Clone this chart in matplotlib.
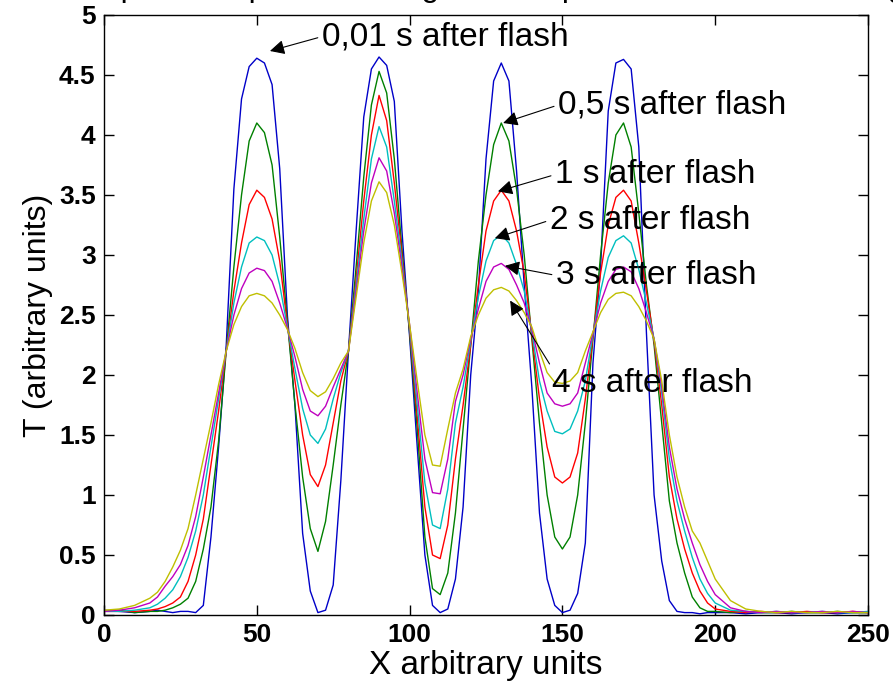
import matplotlib
matplotlib.use("Agg")
import matplotlib.pyplot as plt

plt.rcParams["font.family"] = ["Liberation Sans", "DejaVu Sans"]

# x positions (arbitrary units)
x_pos = [0, 5, 10, 15, 17.5, 20, 22.5, 25, 27.5, 30, 32.5, 35, 37.5, 40,
         42.5, 45, 47.5, 50, 52.5, 55, 57.5, 60,
         62.5, 65, 67.5, 70, 72.5, 75, 77.5, 80,
         82.5, 85, 87.5, 90, 92.5, 95, 97.5, 100,
         102.5, 105, 107.5, 110, 112.5, 115, 117.5, 120,
         122.5, 125, 127.5, 130, 132.5, 135, 137.5, 140,
         142.5, 145, 147.5, 150, 152.5, 155, 157.5, 160,
         162.5, 165, 167.5, 170, 172.5, 175, 177.5, 180,
         182.5, 185, 187.5, 190, 192.5, 195, 197.5, 200,
         205, 210, 215, 220, 225, 230, 235, 240, 245, 250]

t_001s = [0.04, 0.03, 0.02, 0.03, 0.04, 0.03, 0.02, 0.03, 0.03, 0.02, 0.08, 0.65, 1.4, 2.25,
          3.55, 4.3, 4.57, 4.64, 4.6, 4.42, 3.72, 2.5,
          1.74, 0.68, 0.2, 0.02, 0.04, 0.25, 1.12, 2.2,
          3.2, 4.15, 4.55, 4.65, 4.58, 4.28, 3.2, 2.32,
          1.4, 0.5, 0.08, 0.02, 0.05, 0.3, 0.9, 2.0,
          2.7, 3.8, 4.45, 4.6, 4.45, 3.7, 2.75, 1.9,
          0.85, 0.3, 0.08, 0.02, 0.04, 0.18, 0.6, 2.1,
          2.9, 4.2, 4.6, 4.63, 4.55, 3.9, 2.35, 1.0,
          0.45, 0.12, 0.03, 0.02, 0.02, 0.01, 0.02, 0.02,
          0.02, 0.01, 0.02, 0.02, 0.01, 0.02, 0.02, 0.01, 0.02, 0.02]

t_05s = [0.03, 0.04, 0.02, 0.03, 0.03, 0.04, 0.06, 0.09, 0.14, 0.28, 0.55, 0.9, 1.45, 2.2,
         2.9, 3.5, 3.95, 4.1, 4.02, 3.75, 3.15, 2.45,
         1.75, 1.15, 0.72, 0.53, 0.78, 1.25, 1.75, 2.2,
         2.9, 3.65, 4.25, 4.53, 4.35, 3.8, 3.05, 2.35,
         1.55, 0.65, 0.22, 0.17, 0.35, 0.85, 1.55, 2.25,
         2.95, 3.5, 3.92, 4.1, 3.95, 3.55, 3.0, 2.3,
         1.6, 1.0, 0.65, 0.55, 0.65, 1.0, 1.6, 2.3,
         3.0, 3.6, 4.0, 4.1, 3.9, 3.35, 2.75, 2.25,
         1.6, 0.95, 0.6, 0.35, 0.15, 0.06, 0.03, 0.03,
         0.02, 0.03, 0.02, 0.02, 0.03, 0.02, 0.02, 0.03, 0.02, 0.02]

t_1s = [0.03, 0.03, 0.03, 0.04, 0.05, 0.07, 0.1, 0.15, 0.28, 0.5, 0.8, 1.25, 1.7, 2.2,
        2.7, 3.1, 3.42, 3.54, 3.48, 3.3, 2.95, 2.42,
        1.95, 1.5, 1.17, 1.07, 1.25, 1.6, 1.95, 2.2,
        2.8, 3.45, 4.0, 4.33, 4.12, 3.6, 3.0, 2.38,
        1.65, 0.9, 0.5, 0.47, 0.75, 1.3, 1.75, 2.25,
        2.75, 3.2, 3.45, 3.54, 3.45, 3.2, 2.85, 2.33,
        1.8, 1.4, 1.15, 1.1, 1.15, 1.35, 1.8, 2.32,
        2.85, 3.25, 3.48, 3.54, 3.45, 3.1, 2.7, 2.28,
        1.75, 1.15, 0.8, 0.55, 0.35, 0.2, 0.1, 0.05,
        0.03, 0.02, 0.03, 0.02, 0.02, 0.03, 0.02, 0.02, 0.03, 0.02]

t_2s = [0.03, 0.03, 0.04, 0.06, 0.09, 0.14, 0.21, 0.32, 0.48, 0.7, 1.0, 1.4, 1.8, 2.2,
        2.6, 2.9, 3.1, 3.15, 3.12, 3.0, 2.75, 2.4,
        2.05, 1.72, 1.5, 1.43, 1.55, 1.8, 2.02, 2.2,
        2.75, 3.3, 3.8, 4.07, 3.9, 3.45, 2.95, 2.4,
        1.75, 1.1, 0.75, 0.72, 1.05, 1.6, 1.9, 2.28,
        2.65, 2.95, 3.12, 3.17, 3.1, 2.92, 2.7, 2.36,
        1.95, 1.7, 1.53, 1.51, 1.55, 1.7, 1.95, 2.34,
        2.7, 2.98, 3.12, 3.16, 3.1, 2.88, 2.6, 2.3,
        1.85, 1.3, 0.95, 0.7, 0.48, 0.3, 0.18, 0.1,
        0.04, 0.03, 0.02, 0.03, 0.02, 0.02, 0.03, 0.02, 0.02, 0.03]

t_3s = [0.03, 0.04, 0.06, 0.1, 0.15, 0.24, 0.32, 0.42, 0.58, 0.82, 1.15, 1.5, 1.85, 2.2,
        2.5, 2.72, 2.85, 2.89, 2.87, 2.78, 2.6, 2.39,
        2.15, 1.88, 1.7, 1.66, 1.74, 1.9, 2.05, 2.2,
        2.7, 3.2, 3.6, 3.81, 3.7, 3.35, 2.9, 2.42,
        1.85, 1.3, 1.02, 1.01, 1.3, 1.78, 2.0, 2.3,
        2.55, 2.78, 2.9, 2.93, 2.88, 2.75, 2.6, 2.38,
        2.1, 1.85, 1.76, 1.74, 1.76, 1.85, 2.1, 2.35,
        2.6, 2.78, 2.88, 2.9, 2.86, 2.72, 2.52, 2.3,
        1.9, 1.4, 1.05, 0.8, 0.6, 0.42, 0.28, 0.17,
        0.06, 0.03, 0.02, 0.03, 0.02, 0.02, 0.03, 0.02, 0.03, 0.02]

t_4s = [0.04, 0.05, 0.08, 0.14, 0.19, 0.28, 0.4, 0.54, 0.72, 1.0, 1.3, 1.6, 1.92, 2.2,
        2.42, 2.57, 2.66, 2.68, 2.66, 2.6, 2.5, 2.38,
        2.22, 2.02, 1.87, 1.82, 1.86, 1.97, 2.1, 2.2,
        2.65, 3.1, 3.45, 3.61, 3.52, 3.25, 2.85, 2.42,
        1.95, 1.5, 1.25, 1.24, 1.55, 1.85, 2.05, 2.32,
        2.5, 2.64, 2.71, 2.73, 2.7, 2.62, 2.52, 2.4,
        2.2, 2.02, 1.94, 1.93, 1.95, 2.02, 2.2, 2.36,
        2.52, 2.63, 2.68, 2.69, 2.66, 2.57, 2.45, 2.3,
        1.95, 1.5, 1.15, 0.9, 0.7, 0.6, 0.45, 0.3,
        0.12, 0.05, 0.03, 0.02, 0.03, 0.02, 0.02, 0.03, 0.02, 0.02]

series = [t_001s, t_05s, t_1s, t_2s, t_3s, t_4s]
colors = ["#0000c8", "#008000", "#ff0000", "#00bfbf", "#bf00bf", "#bfbf00"]

labels = ["0,01 s after flash", "0,5 s after flash", "1 s after flash",
          "2 s after flash", "3 s after flash", "4 s after flash"]
# arrow tip (x, T) and text anchor (x, T) for each label
tips = [(54.3, 4.70), (130.6, 4.10), (128.9, 3.53), (127.9, 3.14), (131.2, 2.91), (132.9, 2.62)]
text_at = [(71.3, 4.82), (148.6, 4.25), (147.6, 3.67), (145.9, 3.29), (147.9, 2.83), (146.6, 1.93)]
rel = [(0, 0.5), (0, 0.5), (0, 0.5), (0, 0.5), (0, 0.5), (0, 1.0)]

fig = plt.figure(figsize=(8.93, 6.90), dpi=100)
ax = fig.add_axes([104 / 893, 75 / 690, 764 / 893, 600 / 690])

for y, c in zip(series, colors):
    ax.plot(x_pos, y, color=c, lw=1.0)

for lab, tip, tx, rp in zip(labels, tips, text_at, rel):
    ax.annotate(lab, xy=tip, xytext=tx, fontsize=24, ha="left", va="center",
                arrowprops=dict(arrowstyle="-|>", color="k", lw=0.8,
                                mutation_scale=22, shrinkA=1, shrinkB=0,
                                relpos=rp))

ax.set_xlim(0, 250)
ax.set_ylim(0, 5)
ax.set_xticks([0, 50, 100, 150, 200, 250])
ax.set_yticks([0, 0.5, 1, 1.5, 2, 2.5, 3, 3.5, 4, 4.5, 5])
ax.set_yticklabels(["0", "0.5", "1", "1.5", "2", "2.5", "3", "3.5", "4", "4.5", "5"])
ax.tick_params(direction="in", length=7, width=1, top=True, right=True,
               labelsize=19, pad=6)
for t in ax.get_xticklabels() + ax.get_yticklabels():
    t.set_fontweight("bold")
for s in ax.spines.values():
    s.set_linewidth(1.0)

ax.set_xlabel("X arbitrary units", fontsize=24, labelpad=2)
ax.set_ylabel("T (arbitrary units)", fontsize=23, labelpad=4)

# title sits above the canvas, only its lower edge shows
fig.text(0.54, 1.006, "Temperature profiles along the sample surface after heating",
         fontsize=23, ha="center", va="baseline")

fig.savefig("out.png", dpi=100)
